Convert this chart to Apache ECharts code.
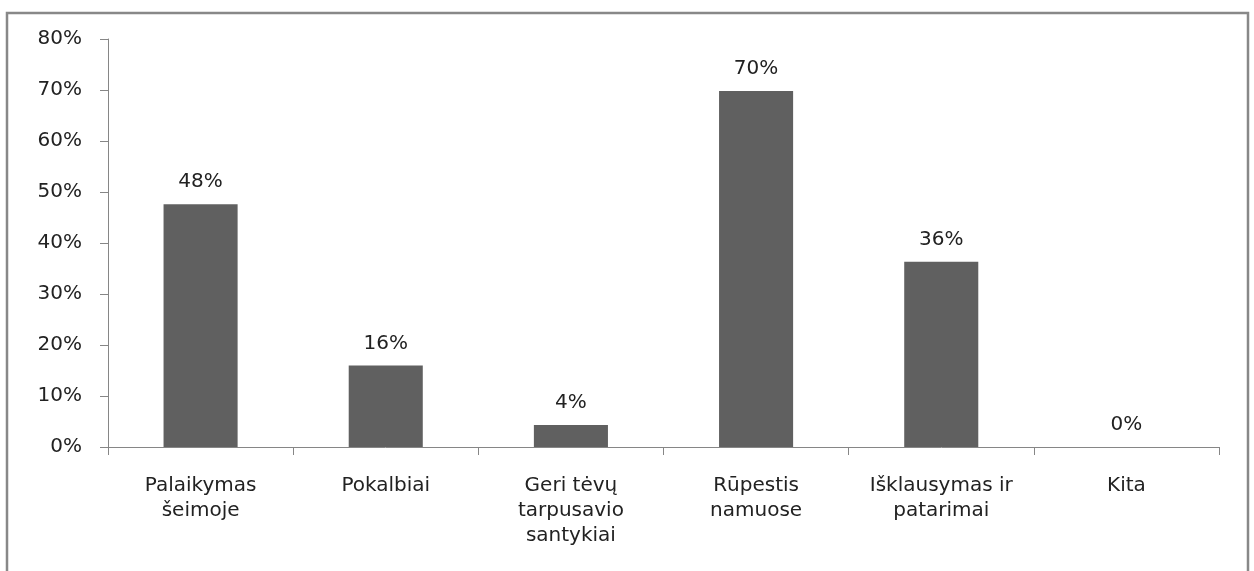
<!DOCTYPE html>
<html>
<head>
<meta charset="utf-8">
<script src="https://cdn.jsdelivr.net/npm/echarts@6/dist/echarts.min.js"></script>
<style>
  html, body { margin: 0; padding: 0; background: #fff; }
  #chart { width: 1254px; height: 571px; }
</style>
</head>
<body>
<div id="chart"></div>
<script>
var categories = ['Palaikymas\nšeimoje', 'Pokalbiai', 'Geri tėvų\ntarpusavio\nsantykiai', 'Rūpestis\nnamuose', 'Išklausymas ir\npatarimai', 'Kita'];
var values = [47.6, 16, 4.3, 69.8, 36.3, 0];
var yTicks = [0, 10, 20, 30, 40, 50, 60, 70, 80];

var axisColor = '#868686';
var textColor = '#222';
var font = 'DejaVu Sans';

var option = {
  animation: false,
  grid: { left: 108, right: 35, top: 39, bottom: 124 },
  graphic: [{
    type: 'rect',
    shape: { x: 7, y: 13, width: 1241, height: 620 },
    style: { fill: 'none', stroke: '#888', lineWidth: 2.5 },
    silent: true
  }],
  xAxis: {
    type: 'category',
    data: categories,
    axisLine: { lineStyle: { color: axisColor } },
    axisTick: { show: true, alignWithLabel: false, interval: 0, length: 8, lineStyle: { color: axisColor } },
    axisLabel: {
      color: textColor, fontFamily: font, fontSize: 20,
      lineHeight: 25, margin: 26, interval: 0
    }
  },
  yAxis: {
    type: 'value',
    min: yTicks[0],
    max: yTicks[yTicks.length - 1],
    interval: 10,
    splitLine: { show: false },
    axisLine: { show: true, lineStyle: { color: axisColor } },
    axisTick: { show: true, length: 8, lineStyle: { color: axisColor } },
    axisLabel: {
      color: textColor, fontFamily: font, fontSize: 20, margin: 26,
      formatter: function (v) { return v + '%'; }
    }
  },
  series: [{
    type: 'bar',
    data: values,
    barWidth: '40%',
    itemStyle: { color: '#606060' },
    label: {
      show: true,
      position: 'top',
      distance: 12,
      color: textColor, fontFamily: font, fontSize: 20,
      formatter: function (p) { return Math.round(p.value) + '%'; }
    }
  }]
};

var myChart = echarts.init(document.getElementById('chart'));
myChart.setOption(option);
</script>
</body>
</html>
